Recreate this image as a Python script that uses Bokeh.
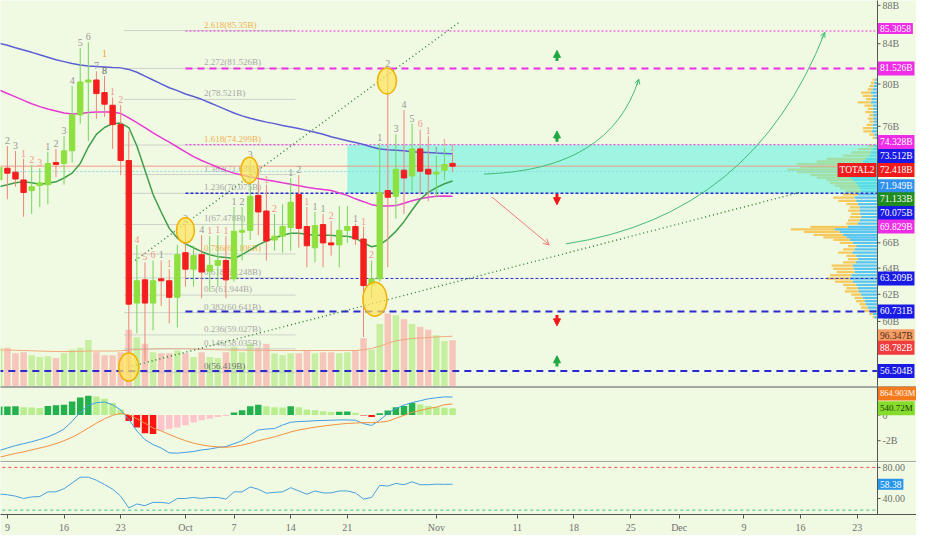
import numpy as np
import pandas as pd
from bokeh.plotting import figure
from bokeh.layouts import column
from bokeh.models import (Range1d, FixedTicker, Label, Arrow, OpenHead, NormalHead, LinearScale)
from bokeh.core.properties import value
from bokeh.embed import file_html
from bokeh.resources import INLINE

# ---------------- data ----------------
dates = pd.date_range("2019-09-08", "2019-11-03", freq="D")

open_b = [71.22, 72.24, 71.89, 71.22, 70.31, 70.73, 70.81, 72.74, 72.66, 73.78, 77.06, 80.20, 80.39, 79.17,
          77.97, 76.16, 72.92, 61.35, 63.10, 61.35, 63.18, 63.03, 61.78, 65.21, 63.92, 65.05, 63.77, 64.22,
          64.60, 63.18, 66.85, 67.00, 69.90, 68.59, 66.22, 66.53, 67.23, 69.98, 67.31, 65.60, 67.47, 65.99,
          65.83, 67.00, 67.31, 66.30, 62.74, 63.18, 70.31, 69.82, 72.07, 71.56, 73.95, 72.15, 71.73, 72.07, 72.66]
high_b = [73.09, 74.21, 73.78, 73.09, 72.49, 72.24, 73.69, 73.95, 75.09, 79.83, 83.56, 84.15, 81.24, 80.77,
          78.71, 77.97, 75.54, 65.83, 64.45, 64.60, 64.60, 63.92, 65.83, 67.48, 65.76, 66.61, 66.53, 66.61,
          66.53, 68.92, 68.92, 72.92, 72.24, 70.81, 68.35, 69.16, 71.39, 71.64, 68.92, 68.51, 68.35, 67.78,
          69.00, 69.00, 67.55, 67.31, 64.60, 74.47, 81.50, 75.27, 77.52, 76.25, 75.71, 75.09, 73.35, 74.04, 73.61]
low_b = [70.39, 69.57, 70.64, 68.11, 68.35, 68.92, 69.16, 71.47, 70.81, 72.74, 76.25, 74.65, 76.70, 76.88,
         73.95, 71.64, 56.60, 59.15, 57.18, 59.36, 61.13, 59.86, 59.57, 62.59, 62.59, 61.71, 62.22, 62.59,
         61.71, 62.96, 64.60, 66.22, 66.61, 64.60, 65.37, 65.21, 65.37, 65.60, 64.07, 64.45, 64.07, 64.98,
         64.07, 65.99, 65.83, 58.88, 61.71, 62.96, 64.07, 67.95, 68.35, 70.23, 69.98, 69.41, 69.74, 71.22, 71.90]
close_b = [72.32, 71.81, 71.30, 70.15, 70.64, 70.97, 72.66, 72.57, 73.78, 77.06, 80.20, 80.39, 79.08, 78.07,
           76.16, 72.92, 61.27, 63.03, 61.35, 63.03, 63.03, 61.78, 65.05, 63.92, 64.98, 63.70, 64.22, 64.60,
           63.10, 66.92, 67.00, 69.82, 68.51, 66.14, 66.53, 67.31, 69.32, 67.16, 65.76, 67.39, 65.99, 65.83,
           67.00, 67.31, 66.30, 62.66, 63.18, 70.15, 69.74, 72.15, 71.39, 73.95, 71.98, 71.73, 71.90, 72.57, 72.418]
volume_b = [74.5, 74.5, 63.6, 65.5, 60.0, 56.4, 58.2, 54.5, 63.6, 70.9, 74.5, 89.0, 65.5, 60.0, 60.0, 65.5,
            109.0, 94.5, 81.8, 65.5, 63.6, 63.6, 69.1, 63.6, 56.4, 65.5, 56.4, 54.5, 65.5, 76.4, 65.5, 81.8,
            74.5, 81.8, 63.6, 60.0, 63.6, 63.6, 69.1, 63.6, 65.5, 65.5, 63.6, 65.5, 69.1, 92.7, 70.9, 120.0,
            140.0, 136.4, 129.0, 120.0, 114.5, 109.0, 98.2, 87.3, 88.782]
vol_ma_b = [70, 70, 69.5, 69, 68.5, 68, 67.5, 67, 67, 67, 67.5, 68, 68, 68, 68, 68.5, 70, 71, 71.5, 72,
            72.5, 72.5, 72.5, 72.5, 72, 71.5, 71, 70.5, 70, 70, 69.5, 69.5, 69.5, 69.5, 69, 69, 69, 69, 69, 69,
            69, 69, 69, 69, 69, 70.5, 73, 77, 83, 87.5, 90, 92, 93, 94, 95, 95.8, 96.347]
ma_slow = [84.05, 83.85, 83.60, 83.37, 83.13, 82.88, 82.64, 82.39, 82.20, 82.01, 81.86, 81.77, 81.72, 81.67,
           81.62, 81.58, 81.43, 81.15, 80.77, 80.39, 80.02, 79.64, 79.36, 79.04, 78.80, 78.53, 78.21, 77.88,
           77.56, 77.24, 76.97, 76.75, 76.57, 76.39, 76.25, 76.07, 75.94, 75.80, 75.63, 75.45, 75.27, 75.05,
           74.87, 74.69, 74.52, 74.34, 74.12, 73.95, 73.88, 73.83, 73.78, 73.70, 73.66, 73.62, 73.58, 73.55, 73.512]
ma_mid = [79.41, 79.08, 78.76, 78.43, 78.11, 77.84, 77.61, 77.43, 77.24, 77.15, 77.20, 77.29, 77.33, 77.33,
          77.33, 77.20, 76.79, 76.34, 75.89, 75.40, 74.96, 74.56, 74.12, 73.69, 73.26, 72.92, 72.62, 72.32,
          72.03, 71.81, 71.64, 71.47, 71.35, 71.22, 71.10, 70.97, 70.85, 70.73, 70.60, 70.48, 70.40, 70.31,
          70.11, 69.90, 69.61, 69.37, 69.12, 69.00, 69.00, 69.04, 69.24, 69.45, 69.61, 69.74, 69.82, 69.84, 69.829]
ma_fast = [70.64, 70.81, 70.97, 71.06, 70.97, 70.85, 70.93, 71.06, 71.39, 71.81, 72.66, 74.12, 75.27, 75.89,
           76.25, 76.30, 75.89, 74.21, 72.07, 69.98, 68.51, 67.16, 66.38, 65.91, 65.60, 65.29, 65.05, 64.90,
           64.83, 64.75, 65.05, 65.44, 65.83, 66.14, 66.38, 66.61, 66.77, 66.77, 66.69, 66.61, 66.61, 66.61,
           66.53, 66.53, 66.38, 65.99, 65.68, 65.83, 66.30, 66.92, 67.71, 68.67, 69.57, 70.15, 70.56, 70.89, 71.133]
macd_b = [-2.76, -2.57, -2.38, -2.23, -2.08, -1.90, -1.70, -1.43, -1.09, -0.48, 0.21, 0.74, 0.97, 1.02, 0.81,
          0.40, -0.33, -1.24, -1.92, -2.30, -2.57, -2.95, -2.97, -2.91, -2.84, -2.72, -2.65, -2.53, -2.46, -2.23,
          -2.00, -1.54, -1.16, -1.09, -1.05, -0.78, -0.56, -0.50, -0.48, -0.44, -0.42, -0.40, -0.38, -0.38, -0.40,
          -0.67, -0.81, -0.40, 0.13, 0.51, 0.78, 0.97, 1.12, 1.27, 1.35, 1.42, 1.406]
signal_b = [-3.29, -3.14, -2.99, -2.87, -2.72, -2.57, -2.42, -2.23, -2.00, -1.73, -1.39, -1.01, -0.63, -0.29,
            -0.02, 0.13, 0.02, -0.29, -0.63, -1.01, -1.24, -1.51, -1.77, -2.00, -2.19, -2.33, -2.42, -2.48, -2.51,
            -2.46, -2.34, -2.19, -2.00, -1.85, -1.70, -1.51, -1.32, -1.16, -1.05, -0.94, -0.86, -0.78, -0.71,
            -0.65, -0.62, -0.59, -0.59, -0.56, -0.48, -0.25, -0.02, 0.21, 0.36, 0.51, 0.62, 0.81, 0.865]
hist_b = [0.66, 0.67, 0.68, 0.61, 0.60, 0.56, 0.71, 0.76, 0.81, 1.06, 1.37, 1.50, 1.44, 1.27, 0.94, 0.43,
          -0.46, -0.96, -1.42, -1.47, -1.22, -1.09, -0.96, -0.79, -0.58, -0.41, -0.28, -0.15, -0.08, 0.20, 0.38,
          0.68, 0.81, 0.68, 0.61, 0.60, 0.68, 0.61, 0.43, 0.38, 0.30, 0.25, 0.26, 0.27, 0.18, -0.04, -0.15, 0.15,
          0.35, 0.62, 0.70, 0.95, 0.82, 0.70, 0.62, 0.57, 0.541]
rsi = [45.8, 44.8, 43.0, 40.0, 42.0, 42.5, 48.5, 48.5, 52.6, 60.0, 67.4, 67.4, 63.5, 58.0, 52.0, 43.0, 27.9,
       32.9, 30.8, 35.0, 35.0, 33.7, 40.0, 40.0, 41.3, 40.0, 41.3, 41.3, 39.2, 48.5, 48.5, 54.8, 51.9, 46.8,
       47.9, 48.5, 53.9, 49.7, 45.5, 49.7, 47.2, 47.2, 49.7, 49.7, 47.2, 39.2, 41.3, 56.9, 56.0, 59.4, 57.7,
       61.5, 57.7, 57.7, 58.4, 58.2, 58.38]

# volume profile (visible range), rows by price
vp_price = [80.42, 80.10, 79.79, 79.48, 79.17, 78.86, 78.55, 78.24, 77.94, 77.63, 77.33, 77.03, 76.72, 76.43,
            76.13, 75.83, 75.53, 75.24, 74.94, 74.21, 73.93, 73.63, 73.35, 73.06, 72.83, 72.60, 72.34, 72.12,
            71.90, 71.64, 71.42, 71.20, 70.95, 70.72, 70.50, 70.24, 69.98, 69.71, 69.43, 69.16, 68.89, 68.62,
            68.35, 68.09, 67.82, 67.55, 67.29, 67.08, 66.87, 66.63, 66.43, 66.24, 65.99, 65.73, 65.47, 65.21,
            64.96, 64.70, 64.45, 64.20, 63.95, 63.70, 63.45, 63.20, 62.96, 62.71, 62.46, 62.22, 61.98, 61.73,
            61.49, 61.26, 61.01, 60.78, 60.54, 60.30]
vp_up = [2.3, 3.3, 4.0, 5.0, 6.7, 5.0, 5.7, 6.7, 5.0, 4.3, 5.0, 4.3, 4.3, 4.0, 5.0, 5.0, 5.7, 3.3, 2.3, 3.3,
         5.0, 6.7, 8.3, 11.7, 15.0, 25.0, 35.0, 41.7, 38.3, 35.0, 28.3, 25.0, 21.7, 20.0, 18.3, 17.0, 20.0,
         23.3, 21.7, 20.0, 18.3, 18.3, 17.7, 16.7, 18.3, 20.0, 30.0, 43.3, 38.3, 35.0, 31.7, 28.3, 25.0, 21.7,
         23.3, 25.7, 21.7, 20.0, 22.3, 25.0, 24.3, 23.3, 26.7, 28.3, 25.0, 21.7, 20.0, 19.0, 16.7, 15.0, 13.3,
         11.7, 10.0, 8.3, 5.0, 3.3]
vp_down = [2.7, 3.4, 4.3, 5.0, 10.0, 10.0, 6.0, 13.3, 8.3, 5.7, 7.3, 4.0, 5.7, 4.3, 6.0, 10.0, 8.6, 5.0, 2.7,
           6.7, 15.0, 20.0, 26.7, 40.0, 46.7, 56.7, 43.3, 50.0, 43.4, 33.3, 33.4, 26.7, 26.6, 23.3, 20.0, 16.0,
           15.0, 21.7, 18.3, 11.7, 10.0, 11.7, 9.0, 11.6, 11.7, 11.7, 38.3, 45.0, 36.7, 30.0, 23.3, 16.7, 13.3,
           8.3, 11.7, 14.3, 10.0, 10.0, 12.7, 21.7, 20.7, 18.4, 21.6, 23.4, 18.3, 13.3, 11.7, 14.3, 10.0, 8.3,
           8.4, 6.6, 6.7, 5.0, 3.3, 1.7]

# fibonacci extension levels
fib_ratios = ["0", "0.146", "0.236", "0.382", "0.5", "0.618", "0.786", "1", "1.236", "1.382", "1.618",
              "2", "2.272", "2.618"]
fib_values = [56.419, 58.035, 59.027, 60.641, 61.944, 63.248, 65.106, 67.478, 70.075, 71.688, 74.299,
              78.521, 81.526, 85.35]

# horizontal levels and their start dates (None = whole width)
level_values = [85.3058, 81.526, 74.328, 72.418, 71.949, 70.075, 63.209, 60.731, 56.504]
level_start = ["2019-10-01", "2019-10-01", "2019-10-01", None, None, "2019-10-01", "2019-10-01",
               "2019-10-01", None]

# TD-count labels above candles
td_dates = ["2019-09-09", "2019-09-10", "2019-09-11", "2019-09-12", "2019-09-13", "2019-09-14", "2019-09-15",
            "2019-09-16", "2019-09-17", "2019-09-18", "2019-09-19", "2019-09-20", "2019-09-21", "2019-09-21",
            "2019-09-22", "2019-09-23", "2019-09-25", "2019-09-26", "2019-09-27", "2019-09-28", "2019-09-29",
            "2019-10-01", "2019-10-03", "2019-10-04", "2019-10-05", "2019-10-06", "2019-10-07", "2019-10-08",
            "2019-10-09", "2019-10-11", "2019-10-12", "2019-10-14", "2019-10-15", "2019-10-16", "2019-10-17",
            "2019-10-18", "2019-10-19", "2019-10-22", "2019-10-23", "2019-10-24", "2019-10-25", "2019-10-26",
            "2019-10-27", "2019-10-28", "2019-10-29", "2019-10-30", "2019-10-31", "2019-11-01", "2019-11-02",
            "2019-11-03"]
td_text = ["2", "3", "1", "2", "3", "1", "2", "3", "4", "5", "6", "7", "8", "1", "1", "2", "4", "5", "6", "1",
           "1", "2", "4", "1", "1", "1", "1", "2", "3", "1", "2", "1", "2", "1", "1", "1", "2", "1", "1", "2",
           "1", "2", "3", "4", "5", "6", "1", "1", "1", "1"]
td_kind = ["u", "u", "d", "d", "d", "u", "u", "u", "u", "u", "u", "u", "u8", "o", "d", "d", "d", "d", "d", "u",
           "d", "u", "u", "d", "d", "d", "u", "u", "u", "d", "d", "u", "u", "d", "u", "u", "d", "u", "d", "d",
           "u", "u", "u", "u", "u", "d", "d", "u", "d", "d"]

# drawings: trend lines, circles, arrows (day offsets from 9 Sep, price in B)
trend_x0 = [15.8, 14.95]
trend_y0 = [64.60, 56.77]
trend_x1 = [55.9, 97.9]
trend_y1 = [86.27, 70.15]
circle_x = [15.0, 22.0, 29.9, 45.4, 46.9]
circle_y = [56.77, 67.00, 72.07, 61.64, 80.30]
up_arrow_y = [82.79, 75.09, 57.18]
down_arrow_y = [69.57, 60.07]
arrow_col_x = 67.9
curve_x0 = [58.9, 69.0]; curve_y0 = [71.73, 65.91]
curve_cx = [74.5, 92.1]; curve_cy = [72.07, 68.19]
curve_x1 = [78.0, 101.0]; curve_y1 = [80.48, 85.17]
box_start = "2019-10-21"
box_bottom, box_top = 70.075, 74.328

tick_dates = ["2019-09-09", "2019-09-16", "2019-09-23", "2019-10-01", "2019-10-07", "2019-10-14",
              "2019-10-21", "2019-11-01", "2019-11-11", "2019-11-18", "2019-11-25", "2019-12-01",
              "2019-12-09", "2019-12-16", "2019-12-23"]
tick_labels = ["9", "16", "23", "Oct", "7", "14", "21", "Nov", "11", "18", "25", "Dec", "9", "16", "23"]
price_ticks = [60, 62, 64, 66, 68, 70, 72, 76, 80, 84, 88]
macd_ticks = [-2, 0]
macd_tick_labels = ["-2B", "0"]
rsi_ticks = [40, 80]
rsi_tick_labels = ["40.00", "80.00"]

# ---------------- helpers ----------------
day0 = pd.Timestamp("2019-09-09")
def dnum(s):
    return float((pd.Timestamp(s) - day0).days)
days = np.array([(t - day0).days for t in dates], dtype=float)
day_list = list(days)

FONT = "Liberation Sans Narrow"
BG = "#f0fae2"
W = 916            # full frame width
AXPX = 877         # pixel column of the price scale
X0, X1 = -0.85, 107.5              # X1 = position of the price scale
X2 = X0 + (X1 - X0) * W / AXPX     # right edge of the frame
DPX = (X2 - X0) / W                # days per pixel
MAG = "#ee2ee6"
BLUE = "#2a2ad0"
AX = "#555555"

xr = Range1d(X0, X2)

def base_fig(h, yr, **kw):
    f = figure(frame_width=W, frame_height=h, x_range=xr, y_range=yr, y_axis_location=None,
               output_backend="svg", toolbar_location=None, min_border_left=0, min_border_right=0,
               min_border_top=0, min_border_bottom=0, **kw)
    f.background_fill_color = BG
    f.border_fill_color = BG
    f.grid.visible = False
    f.outline_line_color = None
    return f

def price_scale(fig, ticks, labels, ylo, yhi):
    n = len(ticks)
    fig.segment(x0=[X1], y0=[ylo], x1=[X1], y1=[yhi], line_color=AX, line_width=1)
    fig.segment(x0=[X1] * n, y0=ticks, x1=[X1 + 3 * DPX] * n, y1=ticks, line_color=AX, line_width=1)
    fig.text(x=[X1 + 5 * DPX] * n, y=ticks, text=labels, text_color="#707070", text_font=value(FONT),
             text_font_size="10px", text_baseline="middle", text_align="left")

def side_label(fig, y, text, bg, fg="white", off=0.0, rng="default", size="9.5px"):
    fig.add_layout(Label(x=X1, y=y, x_offset=0.5, y_offset=off, text=text, text_color=fg,
                         text_font=FONT, text_font_size=size, text_align="left",
                         text_baseline="middle", background_fill_color=bg, padding=2,
                         y_range_name=rng))

# ---------------- main pane ----------------
p = base_fig(386, Range1d(55.45, 88.52), y_axis_type="log")
p.xaxis.visible = False
p.extra_y_ranges = {"vol": Range1d(0, 740)}
p.extra_y_scales = {"vol": LinearScale()}
p.extra_x_ranges = {"vp": Range1d(AXPX * 892 / 877, -(W - AXPX) * 892 / 877)}
p.extra_x_scales = {"vp": LinearScale()}

inc = [c >= o for o, c in zip(open_b, close_b)]

# volume
p.vbar(x=days, top=volume_b, bottom=0, width=0.8, y_range_name="vol",
       fill_color=["#c8eea2" if u else "#f7c6ba" for u in inc], line_color=None)
p.line(days, vol_ma_b, line_color="#f3a87c", line_width=1, y_range_name="vol")

# volume profile
vp_total = [u + d for u, d in zip(vp_up, vp_down)]
p.segment(x0=[0] * len(vp_price), y0=vp_price, x1=vp_up, y1=vp_price, line_color="#58c4f0",
          line_width=2.3, x_range_name="vp")
p.segment(x0=vp_up, y0=vp_price, x1=vp_total, y1=vp_price, line_color="#f5c95e",
          line_width=2.3, x_range_name="vp")

# value box
p.quad(left=dnum(box_start), right=X1, bottom=box_bottom, top=box_top,
       fill_color="#5cf0e0", fill_alpha=0.55, line_color=None)

# fib lines + labels
fib_colors = ["#707070", "#a8a8a8", "#a8a8a8", "#a8a8a8", "#a8a8a8", "#a8a8a8", "#f0b050", "#a8a8a8",
              "#a8a8a8", "#a8a8a8", "#f0b050", "#a8a8a8", "#a8a8a8", "#f0b050"]
p.segment(x0=[dnum("2019-09-23") + 0.4] * len(fib_values), y0=fib_values,
          x1=[dnum("2019-10-14") + 0.6] * len(fib_values), y1=fib_values,
          line_color="#b8b8b8", line_alpha=0.6, line_width=1)
p.text(x=[dnum("2019-10-03") + 0.3] * len(fib_values), y=fib_values,
       text=[f"{r}({v}B)" for r, v in zip(fib_ratios, fib_values)], text_color=fib_colors,
       text_font=value(FONT), text_font_size="9px", text_baseline="bottom", y_offset=-1)

# horizontal levels
lvl_style = [(MAG, "2 2", 1), (MAG, "7 5", 2), (MAG, "2 2", 1), ("#f29a8a", "solid", 1),
             ("#8ed6e6", "2 2", 1), (BLUE, "3 2", 1.5), (BLUE, "3 2", 1), (BLUE, "7 5", 2), (BLUE, "7 5", 2)]
for v, s, (c, dsh, w) in zip(level_values, level_start, lvl_style):
    x0 = dnum(s) if s else X0 - 2
    p.segment(x0=[x0], y0=[v], x1=[X1], y1=[v], line_color=c, line_dash=dsh, line_width=w)

# moving averages
p.line(days, ma_slow, line_color="#5b5fd3", line_width=1.5)
p.line(days, ma_mid, line_color="#e53ad2", line_width=1.5)
p.line(days, ma_fast, line_color="#3f9f49", line_width=1.5)

# trend lines
p.segment(x0=trend_x0, y0=trend_y0, x1=trend_x1, y1=trend_y1, line_color="#2e7d32",
          line_dash="1 3", line_width=1.4)

# candles
body_col = ["#8ee03f" if u else "#f41e1e" for u in inc]
wick_col = ["#76d35a" if u else "#f0857a" for u in inc]
p.segment(x0=days, y0=high_b, x1=days, y1=low_b, line_color=wick_col, line_width=1)
p.vbar(x=days, top=[max(o, c) for o, c in zip(open_b, close_b)],
       bottom=[min(o, c) for o, c in zip(open_b, close_b)], width=0.66,
       fill_color=body_col, line_color=body_col, line_width=1)

# TD labels
kind_col = {"u": "#979797", "d": "#f0958a", "o": "#f0a030", "u8": "#5e5e5e"}
td_x = [dnum(s) for s in td_dates]
td_y = [high_b[day_list.index(x)] for x in td_x]
p.text(x=td_x, y=td_y, text=td_text, text_color=[kind_col[k] for k in td_kind],
       y_offset=[-19 if k == "o" else -2 for k in td_kind],
       text_font=value(FONT), text_font_size="10px", text_align="center", text_baseline="bottom")

# circles
p.ellipse(x=circle_x, y=circle_y, width=[20, 18, 17, 24, 19], height=[28, 25, 26, 34, 26],
          width_units="screen", height_units="screen", fill_color="#ffe35a", fill_alpha=0.72,
          line_color="#f2b000", line_width=1.5)

# arrows
for v in up_arrow_y:
    p.add_layout(Arrow(end=NormalHead(size=7, fill_color="#1fa83f", line_color="#1fa83f"),
                       x_start=arrow_col_x, y_start=v * 0.9935, x_end=arrow_col_x, y_end=v * 1.0065,
                       line_color="#1fa83f", line_width=3))
for v in down_arrow_y:
    p.add_layout(Arrow(end=NormalHead(size=7, fill_color="#f01818", line_color="#f01818"),
                       x_start=arrow_col_x, y_start=v * 1.0065, x_end=arrow_col_x, y_end=v * 0.9935,
                       line_color="#f01818", line_width=3))
p.quadratic(x0=curve_x0, y0=curve_y0, x1=curve_x1, y1=curve_y1, cx=curve_cx, cy=curve_cy,
            line_color="#44bb77", line_width=1)
p.add_layout(Arrow(end=OpenHead(size=5, line_color="#44bb77", line_width=1), x_start=77.8, y_start=79.9,
                   x_end=curve_x1[0], y_end=curve_y1[0], line_color="#44bb77", line_width=1))
p.add_layout(Arrow(end=OpenHead(size=5, line_color="#44bb77", line_width=1), x_start=100.6, y_start=84.5,
                   x_end=curve_x1[1], y_end=curve_y1[1], line_color="#44bb77", line_width=1))
p.add_layout(Arrow(end=OpenHead(size=6, line_color="#f07c7c", line_width=1), x_start=59.9, y_start=69.74,
                   x_end=66.95, y_end=65.83, line_color="#f07c7c", line_width=1))

# price scale + right-hand value labels
price_scale(p, price_ticks, [f"{t}B" for t in price_ticks], 50, 95)
p.add_layout(Label(x=X1, y=close_b[-1], x_offset=-1, y_offset=-3.9, text="TOTAL2", text_color="white",
                   text_font=FONT, text_font_size="9.5px", text_align="right", text_baseline="middle",
                   background_fill_color="#f21b1b", padding=2))
side_label(p, 85.3058, "85.3058", MAG, off=2.4)
side_label(p, 81.526, "81.526B", MAG)
side_label(p, 74.328, "74.328B", MAG, off=2.6)
side_label(p, ma_slow[-1], "73.512B", "#1a1ae6", off=-2.3)
side_label(p, close_b[-1], "72.418B", "#f21b1b", off=-3.9)
side_label(p, 71.949, "71.949B", "#2f90ee", off=-14.8)
side_label(p, ma_fast[-1], "71.133B", "#1e8c1e", off=-18.3)
side_label(p, 70.075, "70.075B", "#1a1ae6", off=-19.6)
side_label(p, ma_mid[-1], "69.829B", MAG, off=-30.3)
side_label(p, 63.209, "63.209B", "#1a1ae6")
side_label(p, 60.731, "60.731B", "#1a1ae6")
side_label(p, vol_ma_b[-1], "96.347B", "#f79e66", fg="#4a2a14", rng="vol")
side_label(p, volume_b[-1], "88.782B", "#f03c3c", off=-7.6, rng="vol")
side_label(p, 56.504, "56.504B", "#1a1ae6")

# ---------------- MACD pane ----------------
m = base_fig(76, Range1d(-3.70, 2.23))
m.xaxis.visible = False
hcol = []
prev = None
for h in hist_b:
    grow = prev is None or h > prev
    if h >= 0:
        hcol.append("#22b14c" if grow else "#b8ee8e")
    else:
        hcol.append("#ffc4cc" if grow else "#ff1414")
    prev = h
m.segment(x0=[X0 - 2, X0 - 2], y0=[2.23, -3.70], x1=[X2 + 2, X2 + 2], y1=[2.23, -3.70],
          line_color=AX, line_width=2)
m.vbar(x=days, top=hist_b, bottom=0, width=0.8, fill_color=hcol, line_color=None)
m.line(days, macd_b, line_color="#3f9de3", line_width=1)
m.line(days, signal_b, line_color="#f39040", line_width=1)
price_scale(m, macd_ticks, macd_tick_labels, -10, 10)
side_label(m, signal_b[-1], "864.903M", "#f57a1c", off=10.6, size="8.5px")
side_label(m, hist_b[-1], "540.72M", "#86dc2c", fg="#1c3a00", size="9px")

# ---------------- RSI pane ----------------
r = base_fig(52, Range1d(19.4, 86.3))
r.min_border_bottom = 20
r.segment(x0=[X0 - 2], y0=[80], x1=[X1], y1=[80], line_color="#f05050", line_dash="3 3", line_width=1)
r.segment(x0=[X0 - 2], y0=[25], x1=[X1], y1=[25], line_color="#3fc07f", line_dash="3 3", line_width=1)
r.line(days, rsi, line_color="#4a9fe0", line_width=1)
price_scale(r, rsi_ticks, rsi_tick_labels, 0, 100)
side_label(r, rsi[-1], "58.38", "#2596ea")

xa = r.xaxis[0]
tick_days = [dnum(s) for s in tick_dates]
xa.ticker = FixedTicker(ticks=tick_days)
xa.major_label_overrides = {int(d): l for d, l in zip(tick_days, tick_labels)}
xa.axis_line_color = AX
xa.major_tick_line_color = AX
xa.major_tick_out = 4
xa.major_tick_in = 0
xa.minor_tick_line_color = None
xa.major_label_text_color = "#707070"
xa.major_label_text_font = FONT
xa.major_label_text_font_size = "10px"
xa.major_label_standoff = 3

layout = column(p, m, r)
open("out.html", "w").write(file_html(layout, INLINE))
